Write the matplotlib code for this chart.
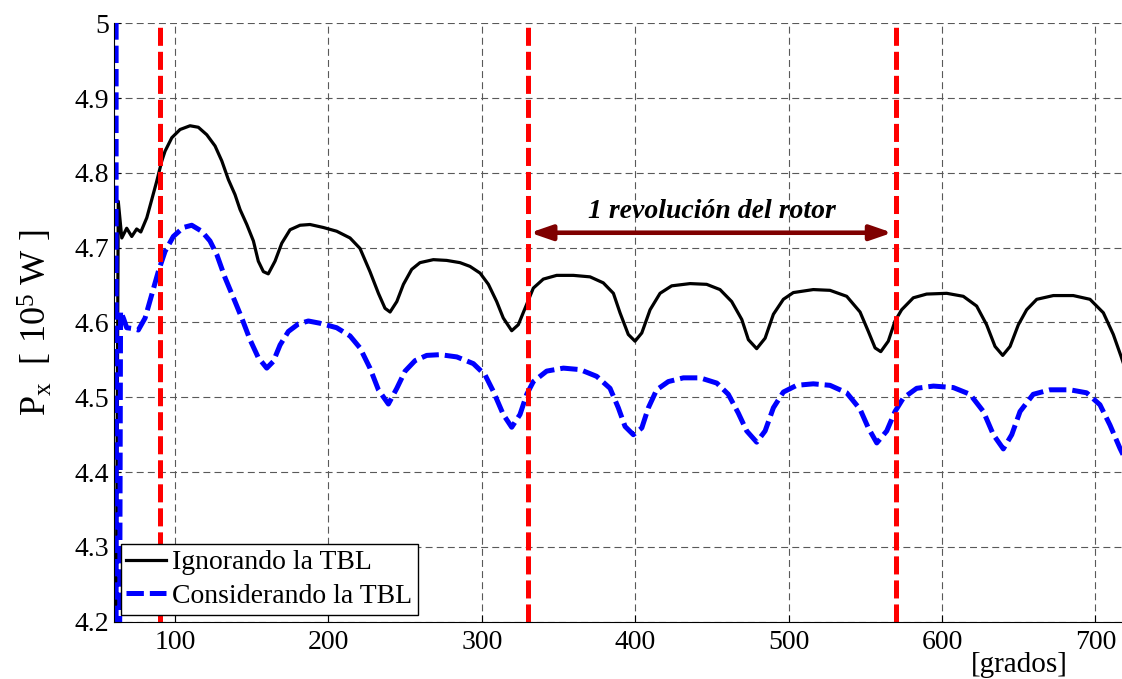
import numpy as np
import matplotlib
matplotlib.use('Agg')
import matplotlib.pyplot as plt

plt.rcParams['font.family'] = 'Liberation Serif'
plt.rcParams['mathtext.fontset'] = 'custom'
plt.rcParams['mathtext.rm'] = 'Liberation Serif'
plt.rcParams['mathtext.it'] = 'Liberation Serif:italic'
plt.rcParams['lines.scale_dashes'] = False

# data
x_ign = [61.5, 63.0, 65.3, 68.5, 71.8, 75.0, 77.7, 81.6, 84.8, 88.1, 91.4, 93.5, 97.9, 103.3, 109.8, 115.2,
         120.7, 126.1, 130.5, 134.8, 139.1, 142.4, 146.8, 151.1, 154.3, 157.6, 160.8, 165.2, 169.6, 175.0,
         181.5, 188.0, 196.7, 205.4, 214.1, 220.6, 227.1, 232.6, 236.9, 240.2, 244.6, 248.9, 254.3, 259.7,
         268.4, 277.1, 285.8, 292.3, 298.9, 304.3, 309.7, 314.0, 319.5, 323.8, 328.2, 333.6, 340.1, 348.8,
         359.7, 370.6, 379.2, 385.8, 390.1, 395.5, 399.9, 404.3, 409.7, 416.2, 423.8, 435.8, 446.6, 455.3,
         462.9, 469.5, 473.8, 479.2, 484.7, 490.1, 496.6, 503.1, 516.1, 527.0, 537.9, 546.6, 552.0, 556.4,
         560.1, 565.0, 569.4, 573.7, 581.3, 590.0, 603.1, 613.9, 622.6, 629.1, 634.6, 639.6, 644.4, 649.8,
         655.2, 661.8, 672.6, 685.6, 696.5, 705.2, 711.7, 716.7, 720.0]
y_ign = [4.10, 4.762, 4.713, 4.726, 4.715, 4.725, 4.721, 4.740, 4.764, 4.789, 4.816, 4.829, 4.847, 4.858, 4.863, 4.861,
         4.851, 4.836, 4.816, 4.791, 4.771, 4.751, 4.731, 4.709, 4.682, 4.668, 4.665, 4.682, 4.706, 4.724,
         4.730, 4.731, 4.727, 4.722, 4.713, 4.699, 4.668, 4.639, 4.619, 4.614, 4.628, 4.651, 4.671, 4.680,
         4.684, 4.683, 4.680, 4.675, 4.666, 4.651, 4.628, 4.606, 4.589, 4.597, 4.619, 4.646, 4.658, 4.663,
         4.663, 4.661, 4.653, 4.639, 4.613, 4.584, 4.575, 4.586, 4.617, 4.639, 4.649, 4.652, 4.651, 4.644,
         4.628, 4.604, 4.577, 4.565, 4.579, 4.611, 4.631, 4.640, 4.644, 4.643, 4.635, 4.614, 4.588, 4.566,
         4.561, 4.575, 4.602, 4.617, 4.633, 4.638, 4.639, 4.635, 4.622, 4.597, 4.568, 4.556, 4.568, 4.597,
         4.617, 4.631, 4.636, 4.636, 4.631, 4.613, 4.584, 4.555, 4.535]

x_con = [61.6, 61.6, 63.8, 64.5, 66.5, 68.5, 72.0, 76.1, 80.5, 84.8, 89.1, 93.5, 98.9, 105.4, 110.9, 117.4,
         122.8, 127.2, 132.6, 139.1, 143.5, 148.9, 154.3, 159.8, 164.1, 168.5, 173.9, 180.4, 186.9, 194.5,
         205.4, 214.1, 220.6, 227.1, 232.6, 239.1, 244.6, 250.0, 256.5, 264.1, 272.8, 283.7, 294.5, 302.1,
         307.5, 314.0, 319.5, 324.9, 329.3, 333.6, 342.3, 353.2, 364.1, 374.9, 383.6, 389.0, 393.4, 398.8,
         404.3, 408.6, 414.0, 421.6, 431.4, 442.3, 453.2, 460.7, 467.2, 472.7, 479.2, 484.7, 490.1, 496.6,
         505.3, 516.1, 527.0, 537.9, 546.6, 552.0, 557.5, 564.0, 569.4, 574.8, 583.5, 594.4, 607.4, 618.3,
         627.0, 633.5, 640.0, 645.5, 650.9, 659.5, 670.4, 683.5, 694.3, 703.0, 709.5, 716.0, 720.0]
y_con = [5.30, 4.10, 4.10, 4.615, 4.605, 4.593, 4.592, 4.590, 4.606, 4.637, 4.668, 4.695, 4.715, 4.727, 4.730, 4.722,
         4.709, 4.691, 4.660, 4.628, 4.606, 4.577, 4.553, 4.539, 4.548, 4.570, 4.588, 4.598, 4.602, 4.599,
         4.593, 4.582, 4.566, 4.539, 4.510, 4.491, 4.512, 4.535, 4.549, 4.556, 4.557, 4.554, 4.545, 4.530,
         4.508, 4.477, 4.460, 4.477, 4.504, 4.521, 4.535, 4.539, 4.537, 4.528, 4.512, 4.486, 4.461, 4.450,
         4.459, 4.486, 4.510, 4.521, 4.526, 4.526, 4.519, 4.504, 4.479, 4.455, 4.440, 4.455, 4.486, 4.507,
         4.516, 4.518, 4.516, 4.506, 4.484, 4.459, 4.439, 4.455, 4.481, 4.499, 4.512, 4.515, 4.513, 4.504,
         4.481, 4.450, 4.431, 4.450, 4.481, 4.504, 4.510, 4.510, 4.506, 4.490, 4.463, 4.432, 4.415]

marks = [90, 330, 570]
rev_start, rev_end, rev_y = 331.5, 567.5, 4.720

fig = plt.figure(figsize=(11.22, 6.79), dpi=100)
ax = fig.add_axes([0.1013, 0.0844, 0.9023, 0.8813])

ax.plot(x_ign, y_ign, color='k', lw=2.3, label='Ignorando la TBL')
ax.plot(x_con, y_con, color='b', lw=3.6, dashes=(12.5, 4.3), label='Considerando la TBL')
for m in marks:
    ax.axvline(m, color='r', lw=3.6, dashes=(13, 4.3))

ax.annotate('', xy=(rev_start, rev_y), xytext=(rev_end, rev_y),
            arrowprops=dict(arrowstyle='<|-|>,head_length=1.3,head_width=0.45', color='#7f0000', lw=3.3,
                            shrinkA=0, shrinkB=0))
ax.text(450, rev_y + 0.012, '1 revolución del rotor', ha='center', va='bottom',
        fontsize=20, fontweight='bold', fontstyle='italic')

ax.set_xlim(60, 720)
ax.set_ylim(4.2, 5)
ax.set_xticks(range(100, 701, 100))
ax.set_yticks(np.arange(4.2, 5.01, 0.1))
ax.set_yticklabels(['4.2', '4.3', '4.4', '4.5', '4.6', '4.7', '4.8', '4.9', '5'])
ax.tick_params(direction='in', labelsize=20, length=5)
ax.tick_params(axis='x', pad=6)
ax.grid(True, color='0.35', lw=0.8, dashes=(5, 3))
ax.spines['top'].set_visible(False)
ax.spines['right'].set_visible(False)
ax.set_ylabel(r'P$_\mathregular{x}$  [ 10$^\mathregular{5}$ W ]', fontsize=26, labelpad=14)
fig.text(1019 / 1122, 1 - 665 / 679, '[grados]', fontsize=21, ha='center', va='center')

leg = ax.legend(loc='lower left', fontsize=20, handlelength=1.45, borderpad=0.2, labelspacing=0.3,
                handletextpad=0.2, borderaxespad=0.25, fancybox=False, framealpha=1)
leg.get_frame().set_edgecolor('k')
leg.get_frame().set_linewidth(1)

fig.savefig('out.png', dpi=100)
